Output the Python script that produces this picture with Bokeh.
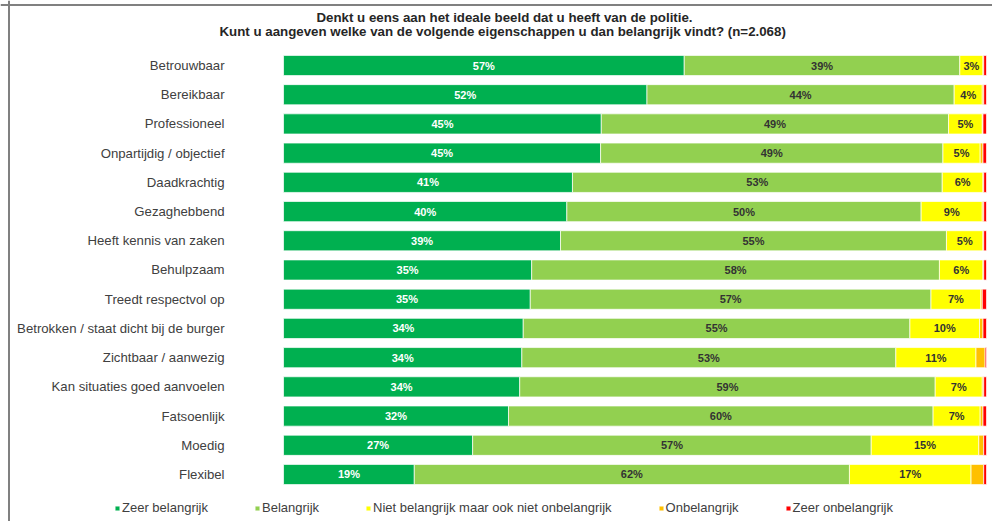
from bokeh.plotting import figure
from bokeh.models import ColumnDataSource, Range1d, Span, Label, Legend, LegendItem
from bokeh.core.properties import value
from bokeh.embed import file_html
from bokeh.resources import INLINE

categories = ["Betrouwbaar", "Bereikbaar", "Professioneel", "Onpartijdig / objectief",
              "Daadkrachtig", "Gezaghebbend", "Heeft kennis van zaken", "Behulpzaam",
              "Treedt respectvol op", "Betrokken / staat dicht bij de burger",
              "Zichtbaar / aanwezig", "Kan situaties goed aanvoelen", "Fatsoenlijk",
              "Moedig", "Flexibel"]
zeer_belangrijk = [57.0, 51.7, 45.2, 45.1, 41.1, 40.3, 39.4, 35.3, 35.1, 34.1, 33.9, 33.6, 32.0, 26.9, 18.6]
belangrijk = [39.2, 43.7, 49.4, 48.7, 52.6, 50.4, 54.9, 58.0, 57.0, 55.0, 53.2, 59.1, 60.4, 56.7, 61.9]
neutraal = [3.3, 4.0, 4.8, 5.3, 5.8, 8.7, 5.2, 6.2, 7.1, 9.9, 11.4, 6.7, 6.7, 15.3, 17.3]
onbelangrijk = [0.1, 0.2, 0.1, 0.4, 0.1, 0.2, 0.1, 0.1, 0.2, 0.5, 1.3, 0.2, 0.4, 0.7, 1.8]
zeer_onbelangrijk = [0.4, 0.4, 0.5, 0.5, 0.4, 0.4, 0.4, 0.4, 0.6, 0.5, 0.2, 0.4, 0.5, 0.4, 0.4]

series_names = ["Zeer belangrijk", "Belangrijk", "Niet belangrijk maar ook niet onbelangrijk",
                "Onbelangrijk", "Zeer onbelangrijk"]
colors = ["#00B050", "#92D050", "#FFFF00", "#FFC000", "#FF0000"]
title_lines = ["Denkt u eens aan het ideale beeld dat u heeft van de politie.",
               "Kunt u aangeven welke van de volgende eigenschappen u dan belangrijk vindt?  (n=2.068)"]

FONT = "Liberation Sans"
n = len(categories)
ypos = [n - 1 - i for i in range(n)]
keys = ["s0", "s1", "s2", "s3", "s4"]
series = [zeer_belangrijk, belangrijk, neutraal, onbelangrijk, zeer_onbelangrijk]

data = {"y": ypos}
for k, s in zip(keys, series):
    data[k] = s
src = ColumnDataSource(data)

X0, X1 = -40.26, 100.85
Y0, Y1 = -1.609, 16.225
p = figure(width=992, height=521, x_range=Range1d(X0, X1),
           y_range=Range1d(Y0, Y1), x_axis_location=None, y_axis_location=None,
           toolbar_location=None, output_backend="svg", min_border=0,
           outline_line_color=None, background_fill_color="white")
p.xgrid.visible = False
p.ygrid.visible = False

renderers = p.hbar_stack(keys, y="y", height=0.69, color=colors, source=src,
                         line_color="white", line_width=0.7)

# value labels for first three series
lx, ly, lt, lc = [], [], [], []
label_colors = ["white", "#333333", "#333333"]
for j in range(3):
    for i in range(n):
        start = sum(series[k][i] for k in range(j))
        v = series[j][i]
        lx.append(start + v / 2)
        ly.append(ypos[i])
        lt.append(f"{int(v + 0.5)}%")
        lc.append(label_colors[j])
p.text(x=lx, y=ly, text=lt, text_color=lc, text_font=value(FONT), text_font_style="bold",
       text_font_size="11px", text_align="center", text_baseline="middle")

# category labels
p.text(x=-8.39, y=ypos, text=categories, text_color="#404040", text_font=value(FONT),
       text_font_size="13.2px", text_align="right", text_baseline="middle")

# title
for t, yy in zip(title_lines, [504, 490]):
    p.add_layout(Label(x=504, y=yy, x_units="screen", y_units="screen", text=t,
                       text_align="center", text_baseline="middle", text_font=FONT,
                       text_font_size="13.3px", text_font_style="bold", text_color="#262626"))

# frame lines (left & top)
p.add_layout(Span(location=-39.05, dimension="height", line_color="#808080", line_width=2))
p.add_layout(Span(location=16.071, dimension="width", line_color="#808080", line_width=2))

legend = Legend(items=[LegendItem(label=nm, renderers=[r]) for nm, r in zip(series_names, renderers)],
                orientation="horizontal", location=(114, 6), glyph_width=6, glyph_height=6,
                label_standoff=2, spacing=46, padding=0, margin=0, border_line_color=None,
                background_fill_alpha=0, label_text_font_size="13px", label_text_font=FONT,
                label_text_color="#404040", label_height=12)
p.add_layout(legend)

open("out.html", "w").write(file_html(p, INLINE))
